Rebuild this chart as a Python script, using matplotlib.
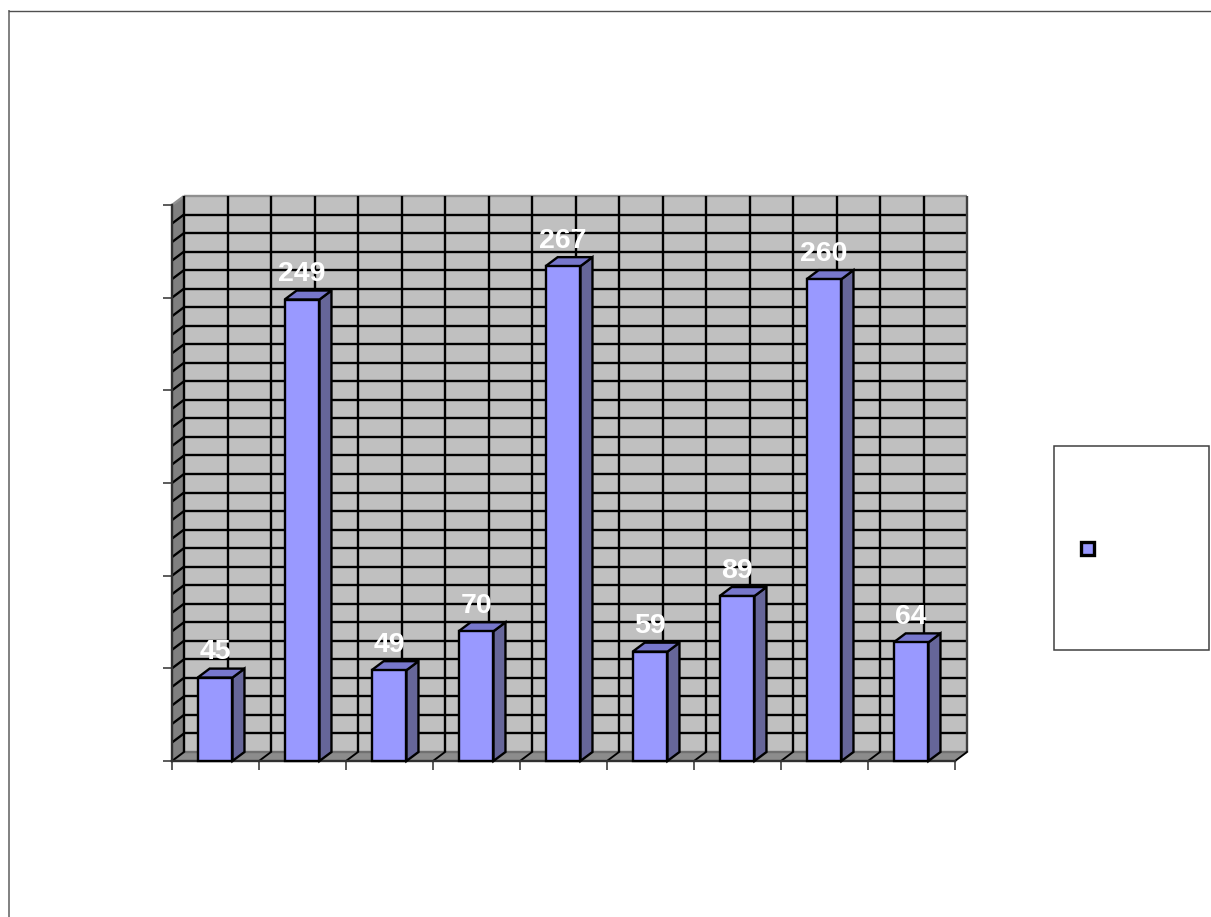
import matplotlib
matplotlib.use('Agg')
import matplotlib.pyplot as plt
from matplotlib.patches import Polygon, Rectangle
import numpy as np

values = [45, 249, 49, 70, 267, 59, 89, 260, 64]
ymax = 300
dx = 12.0/87.0 # depth of the 3d box, category units
dy = 9.0/1.853 # same, value units
barw = 0.4

plt.rcParams['font.family'] = ['Liberation Sans', 'DejaVu Sans']
W, H = 1211, 917
fig = plt.figure(figsize=(W/100.0, H/100.0), dpi=100)
ax = fig.add_axes([172.0/W, (H-761.0)/H, 783.0/W, 556.0/H])
n = len(values)
ax.set_xlim(0, n)
ax.set_ylim(0, ymax)
for s in ax.spines.values():
    s.set_visible(False)
ax.patch.set_visible(False)
ax.set_xticks(range(n+1))
ax.set_yticks(range(0, ymax+1, 50))
ax.set_xticklabels([])
ax.set_yticklabels([])
ax.tick_params(length=6.5, width=1.2, color='#404040')

lw = 1.7
def poly(pts, fc, z, ec='black', w=lw):
    ax.add_patch(Polygon(pts, closed=True, fc=fc, ec=ec, lw=w, zorder=z, clip_on=False, joinstyle='miter'))

# walls and floor
poly([(dx, dy), (n+dx, dy), (n+dx, ymax+dy), (dx, ymax+dy)], '#C0C0C0', 1, ec='none')
poly([(0, 0), (dx, dy), (dx, ymax+dy), (0, ymax)], '#808080', 1, ec='none')
poly([(0, 0), (n, 0), (n+dx, dy), (dx, dy)], '#8C8C8C', 1, ec='none')

# gridlines on the walls
for v in range(0, ymax+1, 10):
    c = 'black'
    if v == ymax:
        c = '#909090'
    if v == 0:
        c = '#707070'
    ax.plot([dx, n+dx], [v+dy, v+dy], color=c, lw=lw, zorder=2, clip_on=False, solid_capstyle='butt')
    ax.plot([0, dx], [v, v+dy], color=c, lw=lw, zorder=2, clip_on=False, solid_capstyle='butt')
for i in np.arange(0, n+0.1, 0.5):
    c = 'black'
    if i == n:
        c = '#404040'
    ax.plot([dx+i, dx+i], [dy, ymax+dy], color=c, lw=lw, zorder=2, clip_on=False, solid_capstyle='butt')
for i in range(n+1):
    ax.plot([i, i+dx], [0, dy], color='black', lw=lw*0.8, zorder=2, clip_on=False)
ax.plot([0, 0], [0, ymax], color='#303030', lw=lw, zorder=2, clip_on=False)
ax.plot([0, n], [0, 0], color='#303030', lw=lw, zorder=2, clip_on=False)

# bars
for i, v in enumerate(values):
    x0 = i + (1-barw)/2 - 0.005
    x1 = x0 + barw
    poly([(x1, 0), (x1+dx, dy), (x1+dx, v+dy), (x1, v)], '#666699', 3)
    poly([(x0, v), (x1, v), (x1+dx, v+dy), (x0+dx, v+dy)], '#7777CC', 3)
    poly([(x0, 0), (x1, 0), (x1, v), (x0, v)], '#9999FF', 4)
    ax.annotate(str(v), xy=((x0+x1)/2, v), xytext=(0, 18.3), textcoords='offset points',
                ha='center', va='center', color='white', fontsize=20.5, fontweight='bold', zorder=6)

# outer chart frame, open on the right and bottom
fig.add_artist(plt.Line2D([9.0/W, 9.0/W], [0, (H-11.0)/H], color='#808080', lw=1.4))
fig.add_artist(plt.Line2D([9.0/W, 1.0], [(H-10.5)/H, (H-10.5)/H], color='#505050', lw=1.0))

# legend box (its text is blank in the original)
fig.add_artist(Rectangle((1053.5/W, (H-650.0)/H), 155.5/W, 204.5/H, transform=fig.transFigure,
                         fc='white', ec='#404040', lw=1.1))
fig.add_artist(Rectangle((1080.5/W, (H-554.5)/H), 13.0/W, 13.0/H, transform=fig.transFigure,
                         fc='#9999FF', ec='black', lw=2.4))

fig.savefig('out.png', dpi=100, facecolor='white')
